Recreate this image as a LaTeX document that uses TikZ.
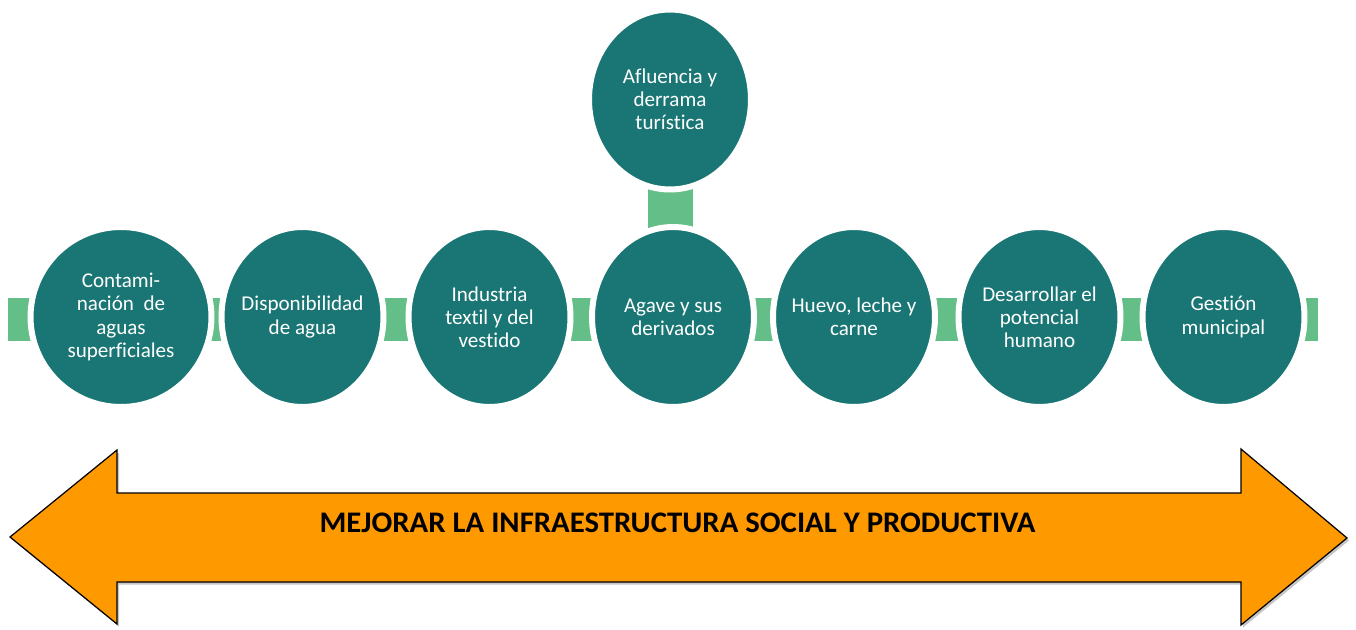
\documentclass[tikz,border=0pt]{standalone}
\usepackage{fontspec}
\setmainfont{Carlito}[Ligatures=NoCommon]
\usetikzlibrary{shapes.geometric,backgrounds,shadows}
\definecolor{tealbox}{HTML}{1A7674}
\definecolor{linkgreen}{HTML}{64BE87}
\definecolor{goalorange}{HTML}{FF9900}
\begin{document}
\begin{tikzpicture}[x=0.02cm,y=-0.02cm,
  topic/.style={ellipse,fill=tealbox,draw=white,line width=0.12cm,minimum width=3.24cm,minimum height=3.6cm,inner sep=0pt},
  topictext/.style={align=center,text=white,font=\fontsize{12}{13.2}\selectfont,inner sep=0pt},
  link/.style={fill=linkgreen}]
\useasboundingbox (0,0) rectangle (1356,629);
% big arrow
\filldraw[fill=goalorange,draw=black,line width=0.7pt,drop shadow={shadow xshift=0.04cm,shadow yshift=-0.05cm,opacity=0.45}]
  (10,537)--(117,450)--(117,493)--(1241,493)--(1241,449)--(1347,538)--(1241,625)--(1241,582)--(117,582)--(117,624)--cycle;
\node (goal) at (677.5,522.5) {\fontsize{17}{20}\selectfont\bfseries\scalebox{1.03}[1]{MEJORAR LA INFRAESTRUCTURA SOCIAL Y PRODUCTIVA}};
% topics
\node[topic,minimum width=3.62cm,label={[topictext]center:Contami-\\nación\ \ de\\aguas\\superficiales}] (c1) at (121,317) {};
\node[topic,label={[topictext]center:Disponibilidad\\de agua}] (c2) at (302.5,317) {};
\node[topic,label={[topictext]center:Industria\\textil y del\\vestido}] (c3) at (489.5,317) {};
\node[topic,label={[topictext]center:Agave y sus\\derivados}] (c4) at (673,317) {};
\node[topic,label={[topictext]center:Huevo, leche y\\carne}] (c5) at (854,317) {};
\node[topic,label={[topictext]center:Desarrollar el\\potencial\\humano}] (c6) at (1039.5,317) {};
\node[topic,label={[topictext]center:Gestión\\municipal}] (c7) at (1223.5,317) {};
\node[topic,label={[topictext]center:Afluencia y\\derrama\\turística}] (top) at (670,99.5) {};
\coordinate (lend) at (8,319.5);
\coordinate (rend) at (1318,319.5);
\begin{scope}[on background layer]
\fill[link] ([yshift=0.43cm]lend) rectangle ([yshift=-0.43cm]rend);
\fill[link] ([xshift=-0.45cm]top.center) rectangle ([xshift=0.45cm,yshift=-1.2cm]top.south);
\end{scope}
\end{tikzpicture}
\end{document}
